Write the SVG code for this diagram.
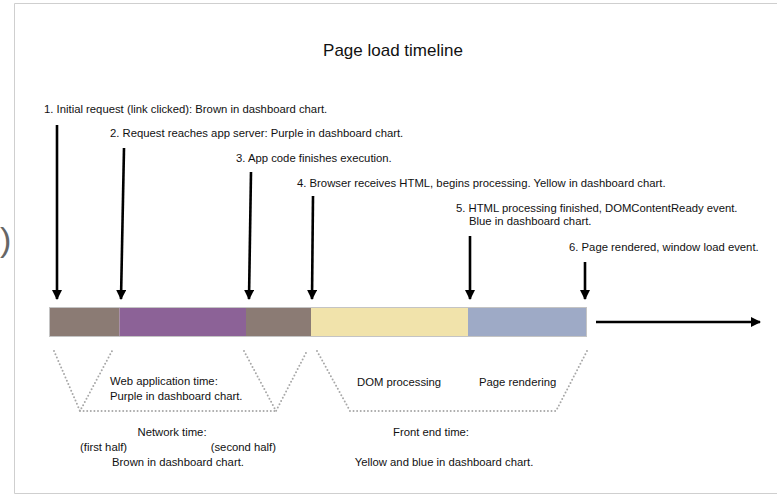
<svg xmlns="http://www.w3.org/2000/svg" width="777" height="497" viewBox="0 0 777 497">
  <style>
    text { font-family: "Liberation Sans", Arial, sans-serif; fill: #111; }
    .lbl { font-size: 11.3px; }
    .title { font-size: 17px; }
    .mid { text-anchor: middle; }
    .end { text-anchor: end; }
    .arrow { stroke: #000; stroke-width: 2.6; fill: none; marker-end: url(#head); }
    .dots { stroke: #a8a8a8; stroke-width: 2; fill: none; stroke-dasharray: 0 3.6; stroke-linecap: round; stroke-linejoin: round; }
    .seg { stroke: none; }
  </style>
  <defs>
    <marker id="head" viewBox="0 0 10 10" refX="9" refY="5" markerWidth="10" markerHeight="10" markerUnits="userSpaceOnUse" orient="auto">
      <path d="M0,0 L10,5 L0,10 z" fill="#000"/>
    </marker>
  </defs>

  <!-- page background and frame -->
  <rect x="0" y="0" width="777" height="497" fill="#fff"/>
  <path d="M777,3.5 H14.5 V493.5 H777" fill="none" stroke="#cfcfcf" stroke-width="1"/>
  <text x="0" y="251" style="font-size:34px; fill:#666;">)</text>

  <text class="title mid" x="393" y="56">Page load timeline</text>

  <!-- event labels -->
  <g id="event1"><text class="lbl" x="44" y="113">1. Initial request (link clicked): Brown in dashboard chart.</text></g>
  <g id="event2"><text class="lbl" x="110" y="137">2. Request reaches app server: Purple in dashboard chart.</text></g>
  <g id="event3"><text class="lbl" x="236" y="162">3. App code finishes execution.</text></g>
  <g id="event4"><text class="lbl" x="297" y="187">4. Browser receives HTML, begins processing. Yellow in dashboard chart.</text></g>
  <g id="event5">
    <text class="lbl" x="456" y="212">5. HTML processing finished, DOMContentReady event.</text>
    <text class="lbl" x="469" y="225">Blue in dashboard chart.</text>
  </g>
  <g id="event6"><text class="lbl" x="569" y="251">6. Page rendered, window load event.</text></g>

  <!-- timeline bar -->
  <g id="timeline-bar">
    <rect class="seg" x="49.5" y="307.5" width="70" height="29" fill="#8b7b74"/>
    <rect class="seg" x="119.5" y="307.5" width="126.5" height="29" fill="#8c6297"/>
    <rect class="seg" x="246" y="307.5" width="65" height="29" fill="#8b7b74"/>
    <rect class="seg" x="311" y="307.5" width="157" height="29" fill="#f1e3ab"/>
    <rect class="seg" x="468" y="307.5" width="118.5" height="29" fill="#9eaac6"/>
    <rect x="49.5" y="307.5" width="537" height="29" fill="none" stroke="#c4c4c4" stroke-width="1"/>
  </g>

  <!-- connectors -->
  <g id="connectors">
    <line class="arrow" x1="57" y1="125" x2="57" y2="299"/>
    <line class="arrow" x1="124" y1="148" x2="121" y2="299"/>
    <line class="arrow" x1="251" y1="172" x2="249" y2="299"/>
    <line class="arrow" x1="313" y1="196" x2="312" y2="299"/>
    <line class="arrow" x1="470" y1="236" x2="470" y2="299"/>
    <line class="arrow" x1="585" y1="262" x2="585" y2="299"/>
    <line class="arrow" x1="596" y1="322" x2="760" y2="322"/>
  </g>

  <!-- dotted spans under the bar -->
  <g id="network-web-span">
    <path class="dots" d="M54,351 L80,411 L112,351"/>
    <path class="dots" d="M80,411 H276"/>
    <path class="dots" d="M244,351 L276,411 L307,351"/>
  </g>
  <g id="front-end-span">
    <path class="dots" d="M317,351 L350,411 H556 L587,351"/>
  </g>

  <!-- span labels -->
  <g id="web-app-time">
    <text class="lbl" x="110" y="385">Web application time:</text>
    <text class="lbl" x="110" y="400">Purple in dashboard chart.</text>
  </g>
  <g id="dom-processing"><text class="lbl" x="357" y="386">DOM processing</text></g>
  <g id="page-rendering"><text class="lbl" x="479" y="386">Page rendering</text></g>
  <g id="network-time">
    <text class="lbl mid" x="172" y="436">Network time:</text>
    <text class="lbl" x="80" y="451">(first half)</text>
    <text class="lbl end" x="276" y="451">(second half)</text>
    <text class="lbl mid" x="178" y="466">Brown in dashboard chart.</text>
  </g>
  <g id="front-end-time">
    <text class="lbl mid" x="431" y="436">Front end time:</text>
    <text class="lbl mid" x="444" y="466">Yellow and blue in dashboard chart.</text>
  </g>
</svg>
